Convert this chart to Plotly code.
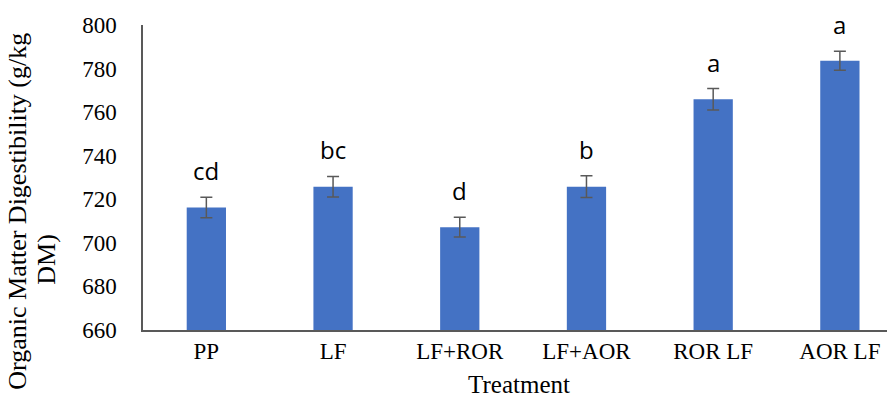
import plotly.graph_objects as go

categories = ["PP", "LF", "LF+ROR", "LF+AOR", "ROR LF", "AOR LF"]
values = [716.2, 725.8, 707.2, 725.8, 765.9, 783.6]
errors = [4.7, 4.7, 4.5, 5.0, 4.9, 4.4]
letters = ["cd", "bc", "d", "b", "a", "a"]
y_ticks = [660, 680, 700, 720, 740, 760, 780, 800]
y_title_lines = ["Organic Matter Digestibility (g/kg", "DM)"]

fig = go.Figure()
fig.add_trace(go.Bar(
    x=categories, y=values, width=0.31,
    marker=dict(color="#4472C4", line=dict(width=0)),
    error_y=dict(type="data", array=errors, visible=True, color="#595959",
                 thickness=1.5, width=6),
))

for c, v, e, l in zip(categories, values, errors, letters):
    fig.add_annotation(x=c, y=v + e, text=l, showarrow=False, yanchor="bottom",
                       yshift=8, font=dict(family="Open Sans, Liberation Sans", size=24, color="black"))

# y-axis title drawn as two rotated lines (Excel-style placement)
fig.add_annotation(text=y_title_lines[0], xref="paper", yref="paper", x=-0.168, y=0.39,
                   xanchor="center", yanchor="middle", textangle=-90, showarrow=False,
                   font=dict(family="Liberation Serif, Times New Roman", size=26, color="black"))
fig.add_annotation(text=y_title_lines[1], xref="paper", yref="paper", x=-0.128, y=0.233,
                   xanchor="center", yanchor="middle", textangle=-90, showarrow=False,
                   font=dict(family="Liberation Serif, Times New Roman", size=26, color="black"))

fig.update_layout(
    width=895, height=406,
    margin=dict(l=135, r=8, t=17, b=84),
    plot_bgcolor="white", paper_bgcolor="white",
    showlegend=False,
    font=dict(family="Liberation Serif, Times New Roman", size=23, color="black"),
)
fig.update_xaxes(
    range=[-0.5, 5.435], showline=True, linecolor="#595959", linewidth=1.5,
    showgrid=False, ticks="", ticklabelstandoff=0, automargin=False,
    title=dict(text="Treatment", font=dict(size=25), standoff=12),
)
fig.update_yaxes(
    range=[660, 800], tickvals=y_ticks, showline=True, linecolor="#595959",
    linewidth=1.5, showgrid=False, ticks="", ticklabelstandoff=20, zeroline=False,
    automargin=False,
)

fig.write_html("out.html")
